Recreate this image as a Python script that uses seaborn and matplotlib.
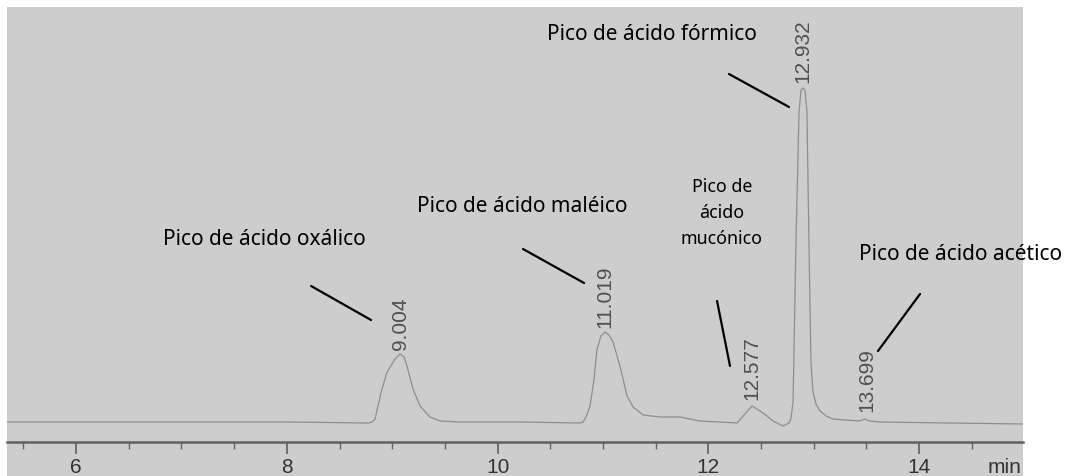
import matplotlib
matplotlib.use("Agg")
import matplotlib.pyplot as plt
from matplotlib.patches import Rectangle
from matplotlib.ticker import MultipleLocator
import seaborn as sns
import pandas as pd

# ---- data (retention time in min, signal in arbitrary units) ----
time_min = [5.345, 6.70, 8.02, 8.770,
            8.808, 8.837, 8.865, 8.903, 8.951, 9.027, 9.074, 9.112, 9.140, 9.197, 9.264, 9.359, 9.454, 9.643,
            10.213, 10.782,
            10.810, 10.839, 10.877, 10.915, 10.943, 10.981, 11.019, 11.057, 11.095, 11.161, 11.228, 11.285,
            11.380, 11.541, 11.731, 11.920, 12.110, 12.271,
            12.347, 12.414, 12.490, 12.556, 12.613, 12.708, 12.765,
            12.784, 12.803, 12.831, 12.860, 12.879, 12.898, 12.916, 12.935, 12.954, 12.973, 12.992,
            13.021, 13.059, 13.116, 13.182, 13.296, 13.438,
            13.486, 13.524, 13.628, 14.292, 14.985]
signal = [20, 20, 20, 19,
          20, 23, 36, 53, 70, 83, 88, 85, 76, 53, 36, 25, 21, 20,
          20, 19,
          20, 25, 36, 63, 93, 106, 110, 107, 100, 76, 46, 35,
          27, 25, 25, 21, 20, 19,
          28, 36, 31, 26, 21, 16, 19,
          24, 40, 200, 330, 352, 354, 352, 330, 200, 80, 50,
          38, 31, 26, 23, 22, 21,
          23, 21, 20, 19, 18]

peak_times = [9.074, 11.019, 12.414, 12.898, 13.505]
peak_labels = ["9.004", "11.019", "12.577", "12.932", "13.699"]
peak_label_base = [93, 115, 43, 360, 31]

names = ["Pico de ácido oxálico", "Pico de ácido maléico", "Pico de\nácido\nmucónico",
         "Pico de ácido fórmico", "Pico de ácido acético"]
name_pos = [(7.784, 203), (10.236, 236), (12.129, 230), (11.465, 408), (14.397, 188)]
name_size = [15, 15, 12.8, 15, 15]
leader_from = [(8.230, 156), (10.241, 193), (12.082, 141), (12.195, 368), (14.008, 148)]
leader_to = [(8.799, 122), (10.820, 159), (12.205, 76), (12.765, 335), (13.609, 91)]

major_ticks = [6, 8, 10, 12, 14]

# ---- figure ----
sns.set_style("white")
plt.rcParams["font.family"] = ["Liberation Sans", "DejaVu Sans"]

W, H = 1068, 477
fig = plt.figure(figsize=(W / 100, H / 100), dpi=100)
fig.patch.set_facecolor("white")
paper = "#cdcdcd"
bg = Rectangle((7 / W, 0), (1023 - 7) / W, 469 / H, transform=fig.transFigure,
               facecolor=paper, edgecolor="none", zorder=-10)
fig.patches.append(bg)

ax = fig.add_axes([7 / W, 34 / H, (1023 - 7) / W, (469 - 34) / H])
ax.set_zorder(1)
ax.set_facecolor(paper)

df = pd.DataFrame({"t": time_min, "s": signal})
sns.lineplot(data=df, x="t", y="s", ax=ax, color="#8e8e8e", linewidth=0.9, sort=False)

ax.set_xlim(5.345, 14.985)
ax.set_ylim(0, 435)
ax.set_xlabel("")
ax.set_ylabel("")
ax.set_yticks([])
for side in ["top", "left", "right"]:
    ax.spines[side].set_visible(False)
ax.spines["bottom"].set_color("#606060")
ax.spines["bottom"].set_linewidth(1.8)

ax.set_xticks(major_ticks)
ax.set_xticklabels([str(v) for v in major_ticks])
ax.xaxis.set_minor_locator(MultipleLocator(0.5))
ax.tick_params(axis="x", which="major", direction="out", length=8.6, width=1.1, color="#555555",
               labelsize=15, labelcolor="#333333", pad=2.0, bottom=True)
ax.tick_params(axis="x", which="minor", direction="out", length=5, width=1.0, color="#666666", bottom=True)

fig.text(988 / W, 4 / H, "min", fontsize=15, color="#333333", ha="left", va="baseline", zorder=5)

# retention time labels
for t, lab, b in zip(peak_times, peak_labels, peak_label_base):
    ax.text(t, b, lab, rotation=90, ha="center", va="bottom", fontsize=15, color="#505050")

# annotations
for name, (tx, ty), fs in zip(names, name_pos, name_size):
    ax.text(tx, ty, name, ha="center", va="center", fontsize=fs, color="black",
            family=["Noto Sans", "DejaVu Sans"], linespacing=1.55, clip_on=False)
for (x0, y0), (x1, y1) in zip(leader_from, leader_to):
    ax.annotate("", xy=(x1, y1), xytext=(x0, y0),
                arrowprops=dict(arrowstyle="-", color="black", lw=1.6, shrinkA=0, shrinkB=0),
                annotation_clip=False)

fig.savefig("out.png", dpi=100, facecolor=fig.get_facecolor())
